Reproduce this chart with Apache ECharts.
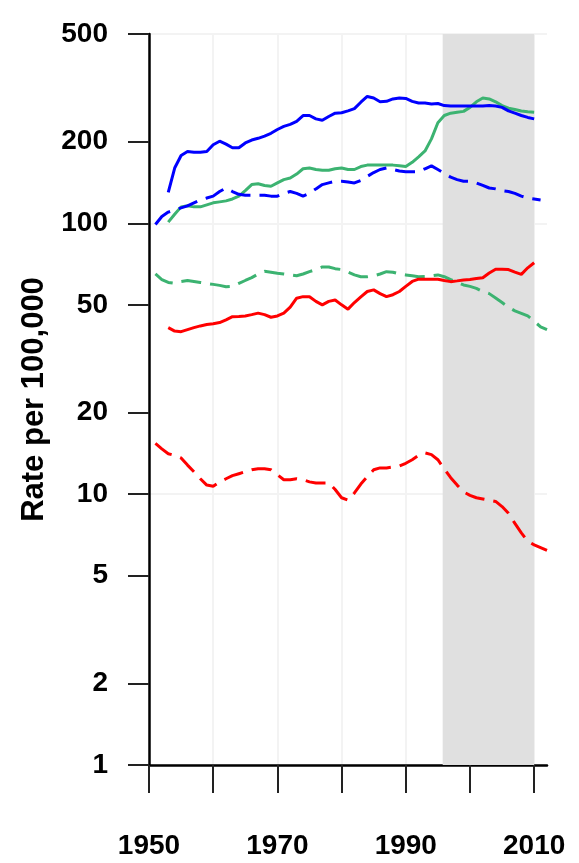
<!DOCTYPE html>
<html>
<head>
<meta charset="utf-8">
<script src="https://cdn.jsdelivr.net/npm/echarts@6/dist/echarts.min.js"></script>
<style>
html, body { margin: 0; padding: 0; background: #fff; }
#main { width: 579px; height: 863px; }
</style>
</head>
<body>
<div id="main"></div>
<script>
// axis ticks
var yTicks = [1, 2, 5, 10, 20, 50, 100, 200, 500];
var xTicks = [1950, 1960, 1970, 1980, 1990, 2000, 2010];
var xLabels = [1950, 1970, 1990, 2010];
var shadeYears = [1995.75, 2010];

// series values, one per year from the start year
var blueSolidStart = 1953;
var blueSolid = [130, 160, 178, 184, 183, 183, 184, 195, 201, 196, 190, 190, 198, 203, 206, 210, 215, 222, 228, 232,
  238, 250, 250, 243, 240, 248, 255, 256, 260, 265, 280, 294, 290, 281, 282, 288, 290, 289, 282, 278,
  278, 276, 277, 272, 271, 271, 271, 271, 271, 271, 272, 271, 268, 260, 255, 250, 246, 243];

var blueDashStart = 1951;
var blueDash = [99, 106, 110, 112, 114, 116, 119, 122, 124, 126, 131, 135, 131, 128, 127, 127, 127, 127, 126, 126,
  129, 131, 129, 126, 129, 134, 139, 141, 143, 143, 142, 141, 144, 149, 154, 158, 160, 158, 156, 155,
  155, 155, 159, 163, 158, 153, 148, 145, 143, 143, 141, 138, 135, 134, 132, 131, 129, 126, 124, 123, 122];

var greenSolidStart = 1953;
var greenSolid = [101, 108, 115, 116, 115, 115, 117, 119, 120, 121, 123, 126, 132, 139, 140, 138, 137, 141, 145, 147,
  152, 159, 160, 158, 157, 157, 159, 160, 158, 158, 162, 164, 164, 164, 164, 164, 163, 162, 168, 176,
  185, 205, 235, 250, 255, 257, 259, 268, 281, 290, 288, 281, 272, 266, 263, 260, 258, 257];

var greenDashStart = 1951;
var greenDash = [65, 62, 60.5, 60, 61, 61.5, 61, 60.5, 60, 59.5, 59, 58.3, 58.5, 60, 61.5, 63, 65, 66.5, 66, 65.4,
  65, 64.5, 64, 65, 66.3, 67.5, 69, 69, 68, 67.5, 66, 64.5, 63.5, 63.5, 64, 65, 66.3, 66, 65, 64.5,
  64, 63.5, 63.6, 64, 64.5, 63.5, 62, 60.5, 59.2, 58.5, 57.5, 56, 55, 53, 51, 49, 47.5, 46.5, 45.5, 43.5,
  41.5, 40.5];

var redSolidStart = 1953;
var redSolid = [41.2, 40, 39.8, 40.5, 41.2, 41.8, 42.3, 42.6, 43, 44, 45.2, 45.3, 45.5, 46, 46.6, 46, 45, 45.5, 46.6, 49,
  52.9, 53.6, 53.6, 51.5, 50, 51.5, 52.1, 50, 48.2, 51, 53.5, 56, 56.8, 55, 53.6, 54.5, 56, 58.5, 61, 62.2,
  62.2, 62.2, 62.2, 61.5, 60.9, 61.3, 61.8, 62, 62.5, 63, 65.5, 67.7, 67.7, 67.5, 66, 64.8, 68.5, 71.5];

var redDashStart = 1951;
var redDash = [15.4, 14.7, 14.1, 13.9, 13.6, 12.8, 12.1, 11.4, 10.8, 10.7, 11.1, 11.4, 11.7, 11.9, 12.1, 12.3, 12.4, 12.4, 12.3, 11.8,
  11.3, 11.3, 11.4, 11.3, 11.1, 11.0, 11.0, 11.0, 10.4, 9.7, 9.5, 10.1, 10.9, 11.6, 12.3, 12.5, 12.5, 12.6, 12.7, 13.0,
  13.4, 13.9, 14.2, 14.0, 13.4, 12.4, 11.5, 10.8, 10.2, 9.9, 9.7, 9.6, 9.5, 9.4, 9.0, 8.5, 7.8, 7.2, 6.7, 6.5,
  6.35, 6.2];

function toPairs(start, vals) {
  return vals.map(function (v, i) { return [start + i, v]; });
}

var labelFont = "'Liberation Sans', Arial, sans-serif";
var dash = [20, 9];

function line(name, start, vals, color, dashed) {
  return {
    name: name,
    type: 'line',
    data: toPairs(start, vals),
    showSymbol: false,
    symbol: 'none',
    lineStyle: { color: color, width: 3, type: dashed ? dash : 'solid' },
    z: 3
  };
}

var chart = echarts.init(document.getElementById('main'));
var series = [
  line('green dashed', greenDashStart, greenDash, '#3cb371', true),
  line('green solid', greenSolidStart, greenSolid, '#3cb371', false),
  line('blue dashed', blueDashStart, blueDash, '#0000ff', true),
  line('blue solid', blueSolidStart, blueSolid, '#0000ff', false),
  line('red dashed', redDashStart, redDash, '#ff0000', true),
  line('red solid', redSolidStart, redSolid, '#ff0000', false)
];
// grey shaded period
series[0].markArea = {
  silent: true,
  itemStyle: { color: '#e0e0e0' },
  data: [[{ xAxis: shadeYears[0] }, { xAxis: shadeYears[1] }]]
};

chart.setOption({
  animation: false,
  backgroundColor: '#ffffff',
  grid: { left: 149, top: 34, right: 32, bottom: 98, containLabel: false, outerBoundsMode: 'none' },
  xAxis: {
    type: 'value',
    min: 1950,
    max: 2012,
    interval: 10,
    axisLine: { lineStyle: { color: '#000', width: 2.5 } },
    axisTick: { show: true, length: 28, customValues: xTicks, lineStyle: { color: '#222', width: 2 } },
    axisLabel: {
      customValues: xLabels,
      formatter: function (v) { return String(v); },
      margin: 67,
      color: '#000',
      fontFamily: labelFont,
      fontWeight: 'bold',
      fontSize: 28
    },
    splitLine: { show: true, lineStyle: { color: '#f3f3f3', width: 2 } }
  },
  yAxis: [{
    type: 'log',
    logBase: 10,
    min: 1,
    max: 500,
    name: 'Rate per 100,000',
    nameLocation: 'middle',
    nameGap: 92,
    nameTextStyle: { color: '#000', fontFamily: labelFont, fontWeight: 'bold', fontSize: 31 },
    axisLine: { show: true, lineStyle: { color: '#000', width: 2.5 } },
    axisTick: { show: true, length: 21, customValues: yTicks, lineStyle: { color: '#222', width: 2 } },
    axisLabel: {
      customValues: yTicks,
      formatter: function (v) { return String(v); },
      margin: 41,
      color: '#000',
      fontFamily: labelFont,
      fontWeight: 'bold',
      fontSize: 28
    },
    splitLine: { show: false }
  }, {
    type: 'log',
    logBase: 10,
    min: 1,
    max: 500,
    position: 'left',
    axisLine: { show: false },
    axisTick: { show: false },
    axisLabel: { show: false },
    splitLine: { show: true, lineStyle: { color: '#f3f3f3', width: 2 } }
  }],
  series: series
});
</script>
</body>
</html>
